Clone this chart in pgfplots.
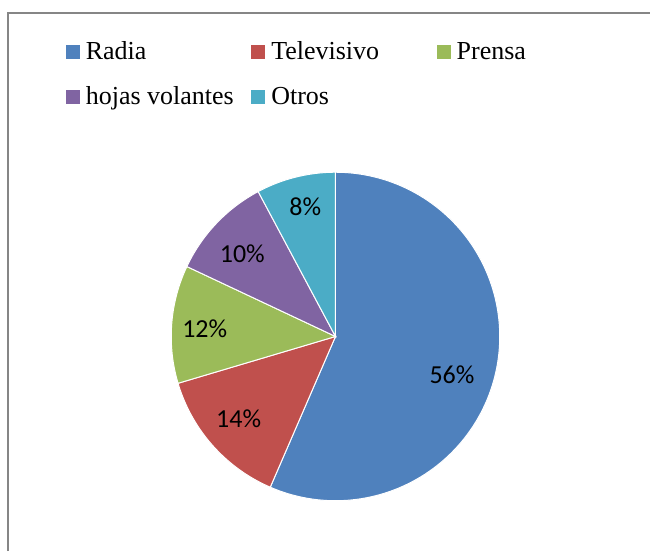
\documentclass[border=0pt]{standalone}
\usepackage{pgfplots}
\pgfplotsset{compat=1.18}
\usepackage{fontspec}
\setmainfont{Liberation Serif}
\newfontfamily\calibri{Carlito}
\definecolor{cRadia}{HTML}{4F81BD}
\definecolor{cTele}{HTML}{C0504D}
\definecolor{cPrensa}{HTML}{9BBB59}
\definecolor{cHojas}{HTML}{8064A2}
\definecolor{cOtros}{HTML}{4BACC6}
\definecolor{frame}{HTML}{868686}
% shares (%): Radia 56.5, Televisivo 13.9, Prensa 11.6, hojas volantes 10.2, Otros 7.8
\begin{document}
\begin{tikzpicture}
\begin{axis}[
  x=0.5bp, y=0.5bp,
  xmin=-336, xmax=315, ymin=-215, ymax=337,
  hide axis, clip=false,
  legend columns=3,
  legend cell align=left,
  legend image code/.code={\fill[#1, draw=none] (0bp,-3.5bp) rectangle (7bp,3.5bp);},
  legend style={at={(axis cs:-270,297)}, anchor=north west, draw=none, fill=none,
    inner sep=0pt, outer sep=0pt, column sep=0pt, row sep=10.5bp,
    font=\fontsize{13bp}{15bp}\selectfont,
    nodes={inner sep=0pt, outer sep=0pt, text height=10bp, text depth=2bp}},
]
\path (axis cs:-336,-215) rectangle (axis cs:315,337);
\draw[frame, line width=1bp] (axis cs:-328,-215) -- (axis cs:-328,324) -- (axis cs:315,324);
\addplot[fill=cRadia, draw=white, line width=0.5bp, domain=90:-113.4, samples=120]
  ({164.5*cos(x)}, {164.5*sin(x)}) -- (axis cs:0,0) -- cycle;
\addlegendentry{\hspace*{3bp}\makebox[82.85bp][l]{Radia}}
\addplot[fill=cTele, draw=white, line width=0.5bp, domain=-113.4:-163.44, samples=40]
  ({164.5*cos(x)}, {164.5*sin(x)}) -- (axis cs:0,0) -- cycle;
\addlegendentry{\hspace*{3bp}\makebox[82.85bp][l]{Televisivo}}
\addplot[fill=cPrensa, draw=white, line width=0.5bp, domain=-163.44:-205.2, samples=40]
  ({164.5*cos(x)}, {164.5*sin(x)}) -- (axis cs:0,0) -- cycle;
\addlegendentry{\hspace*{3bp}\makebox[82.85bp][l]{Prensa}}
\addplot[fill=cHojas, draw=white, line width=0.5bp, domain=-205.2:-241.92, samples=40]
  ({164.5*cos(x)}, {164.5*sin(x)}) -- (axis cs:0,0) -- cycle;
\addlegendentry{\hspace*{3bp}\makebox[82.85bp][l]{hojas volantes}}
\addplot[fill=cOtros, draw=white, line width=0.5bp, domain=-241.92:-270, samples=30]
  ({164.5*cos(x)}, {164.5*sin(x)}) -- (axis cs:0,0) -- cycle;
\addlegendentry{\hspace*{3bp}\makebox[82.85bp][l]{Otros}}
\begin{scope}[every node/.style={font=\calibri\fontsize{13bp}{15bp}\selectfont, inner sep=0pt}]
\node at (axis cs:116.7,-38) {56\%};
\node at (axis cs:-97,-82.3) {14\%};
\node at (axis cs:-131,7.7) {12\%};
\node at (axis cs:-93.3,83) {10\%};
\node at (axis cs:-30.3,130.3) {8\%};
\end{scope}
\end{axis}
\end{tikzpicture}
\end{document}
